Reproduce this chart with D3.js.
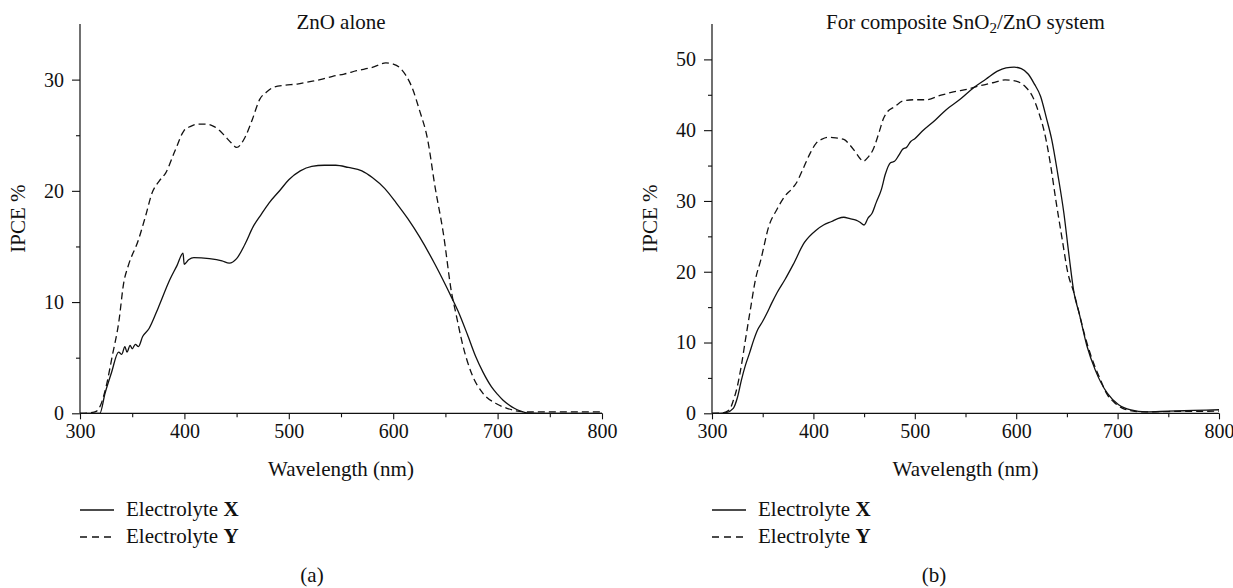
<!DOCTYPE html>
<html>
<head>
<meta charset="utf-8">
<script src="https://cdn.jsdelivr.net/npm/d3@7/dist/d3.min.js"></script>
<style>
  body { margin: 0; background: #fff; }
  svg text { font-family: "Liberation Serif", "Times New Roman", serif; fill: #111; }
</style>
</head>
<body>
<div id="chart-area"></div>
<script>
// ---- data (wavelength nm, IPCE %) ----
var aXnm  = [300, 310, 319, 324, 330, 337, 340, 343, 345, 348, 350, 353, 356, 360, 366, 375, 386, 393, 398.7, 399.8, 404, 409, 424, 436, 443, 450, 458, 466, 473, 481, 492, 500, 511, 522, 534, 545, 557, 570, 580, 592, 603, 614, 625, 640, 656, 663, 671, 679, 686, 694, 700, 705, 711, 716, 722, 728, 740, 760, 780, 800];
var aXval = [0, 0, 0, 1.8, 3.6, 5.5, 5.3, 6.0, 5.5, 6.1, 5.8, 6.2, 6.0, 6.9, 7.6, 9.5, 12.0, 13.3, 14.4, 13.4, 13.8, 14.0, 13.9, 13.7, 13.5, 13.9, 15.2, 16.8, 17.8, 18.9, 20.1, 21.0, 21.8, 22.2, 22.3, 22.3, 22.1, 21.8, 21.2, 20.2, 18.9, 17.5, 15.9, 13.4, 10.4, 9.0, 7.1, 5.1, 3.7, 2.4, 1.7, 1.2, 0.75, 0.45, 0.2, 0.04, 0, 0, 0, 0];
var aYnm  = [300, 310, 316, 320, 325, 331, 337, 342, 346, 356, 363, 369, 376, 382, 391, 399.5, 406, 413, 420, 428, 434, 439, 445, 450, 458, 465, 472, 479, 485, 496, 508, 519, 530, 542, 553, 565, 580, 593, 600, 606, 612, 618, 625, 633, 640, 648, 656, 660, 667, 675, 686, 698, 709, 724, 740, 770, 800];
var aYval = [0, 0.05, 0.2, 0.8, 2.4, 5.2, 8.1, 11.8, 13.2, 15.6, 17.8, 19.8, 20.9, 21.6, 23.6, 25.4, 25.8, 26.0, 26.0, 25.8, 25.4, 24.9, 24.3, 23.9, 24.8, 26.4, 28.2, 28.9, 29.3, 29.5, 29.6, 29.8, 30.0, 30.3, 30.5, 30.8, 31.1, 31.5, 31.4, 31.1, 30.4, 29.3, 27.3, 24.6, 20.4, 16.2, 10.8, 9.0, 6.0, 3.6, 1.8, 0.9, 0.45, 0.15, 0.12, 0.12, 0.12];

var bXnm  = [300, 308, 314, 321, 325, 329, 333, 337, 341, 345, 350, 354, 359, 364, 372, 380, 391, 403, 410, 418, 424, 430, 436, 442, 446, 450, 454, 458, 462, 467, 471, 476, 480, 484, 488, 492, 496, 500, 507, 520, 531, 545, 558, 570, 581, 590, 598, 605, 612, 618, 624, 630, 635, 641, 647, 652, 657, 662, 670, 678, 690, 701, 713, 728, 750, 775, 800];
var bXval = [0, 0, 0.1, 0.7, 2.2, 4.7, 6.8, 8.5, 10.3, 11.8, 13.0, 14.1, 15.6, 17.0, 18.9, 21.0, 24.1, 25.9, 26.6, 27.1, 27.5, 27.7, 27.5, 27.3, 27.0, 26.6, 27.6, 28.3, 29.8, 31.6, 33.8, 35.4, 35.6, 36.4, 37.3, 37.6, 38.4, 38.8, 39.8, 41.4, 42.9, 44.4, 46.0, 47.2, 48.3, 48.8, 48.9, 48.7, 47.9, 46.5, 44.8, 41.6, 38.7, 33.8, 28.3, 22.4, 17.0, 14.2, 9.4, 6.1, 2.8, 1.2, 0.47, 0.2, 0.3, 0.4, 0.5];
var bYnm  = [300, 310, 317, 321, 325, 329, 333, 338, 343, 348, 356, 364, 372, 378, 383, 390, 397, 403, 408, 414, 422, 430, 436, 442, 446, 449, 454, 459, 465, 469, 473, 480, 488, 500, 511, 525, 538, 552, 565, 577, 589, 597, 604, 610, 616, 622, 628, 634, 639, 645, 651, 657, 662, 668, 674, 682, 690, 697, 705, 714, 724, 750, 775, 800];
var bYval = [0, 0.05, 0.47, 1.8, 3.8, 6.8, 10.4, 14.8, 19.0, 21.6, 26.4, 28.8, 30.7, 31.6, 32.5, 34.6, 36.8, 38.2, 38.7, 39.0, 38.9, 38.7, 37.9, 36.8, 36.0, 35.6, 36.2, 37.3, 39.8, 41.6, 42.6, 43.3, 44.1, 44.3, 44.3, 44.9, 45.4, 45.8, 46.3, 46.7, 47.1, 47.0, 46.7, 46.0, 44.8, 42.6, 39.6, 35.0, 30.2, 24.9, 19.8, 17.0, 14.2, 10.8, 8.0, 5.1, 2.6, 1.5, 0.7, 0.35, 0.2, 0.25, 0.28, 0.3];

var xTicks = [300, 400, 500, 600, 700, 800];
var xMinor = [350, 450, 550, 650, 750];
var aYTicks = [0, 10, 20, 30];
var aYMinor = [5, 15, 25];
var bYTicks = [0, 10, 20, 30, 40, 50];
var bYMinor = [5, 15, 25, 35, 45];

var seriesNames = ["Electrolyte ", "Electrolyte "];
var seriesTags = ["X", "Y"];

var W = 1233, H = 588;
var fs = "21px", tickFs = "20px";
var svg = d3.select("#chart-area").append("svg")
    .attr("width", W)
    .attr("height", H);

var plotTop = 24, plotBottom = 413.3;

function panel(opt) {
    var x = d3.scaleLinear().domain([300, 800]).range([opt.left, opt.right]);
    var y = d3.scaleLinear().domain([0, opt.yMax]).range([plotBottom, plotTop]);
    var g = svg.append("g");

    // title
    var title = g.append("text")
        .attr("x", (opt.left + opt.right) / 2)
        .attr("y", 29)
        .attr("text-anchor", "middle")
        .attr("font-size", fs);
    opt.title(title);

    // axes
    g.append("g")
        .attr("transform", "translate(0," + plotBottom + ")")
        .call(d3.axisBottom(x).tickValues(xTicks).tickSize(6).tickPadding(5).tickSizeOuter(0));
    g.append("g")
        .attr("transform", "translate(0," + plotBottom + ")")
        .call(d3.axisBottom(x).tickValues(xMinor).tickSize(4).tickFormat("").tickSizeOuter(0));

    g.append("g")
        .attr("transform", "translate(" + opt.left + ",0)")
        .call(d3.axisLeft(y).tickValues(opt.yTicks).tickSize(8).tickPadding(8).tickSizeOuter(0));
    g.append("g")
        .attr("transform", "translate(" + opt.left + ",0)")
        .call(d3.axisLeft(y).tickValues(opt.yMinor).tickSize(4).tickFormat("").tickSizeOuter(0));

    g.selectAll(".domain").remove();
    // axis lines drawn by hand so the y line reaches the top
    g.append("line").attr("x1", opt.left).attr("x2", opt.left)
        .attr("y1", y(opt.yMax)).attr("y2", plotBottom)
        .attr("stroke", "#111").attr("stroke-width", 1.2);
    g.append("line").attr("x1", opt.left).attr("x2", opt.right)
        .attr("y1", plotBottom).attr("y2", plotBottom)
        .attr("stroke", "#111").attr("stroke-width", 1.2);

    g.selectAll(".tick line").attr("stroke", "#111").attr("stroke-width", 1.1);
    g.selectAll(".tick text")
        .attr("font-family", "Liberation Serif, serif")
        .attr("font-size", tickFs)
        .attr("fill", "#111");

    // axis labels
    g.append("text")
        .attr("x", (opt.left + opt.right) / 2)
        .attr("y", 476)
        .attr("text-anchor", "middle")
        .attr("font-size", fs)
        .text("Wavelength (nm)");

    g.append("text")
        .attr("transform", "translate(" + (opt.left - 55) + "," + ((plotTop + plotBottom) / 2) + ") rotate(-90)")
        .attr("text-anchor", "middle")
        .attr("font-size", fs)
        .text("IPCE %");

    // lines
    var line = d3.line()
        .x(d => x(d[0]))
        .y(d => y(d[1]))
        .curve(d3.curveMonotoneX);

    var solid = opt.xnm.map((d, i) => [d, opt.xval[i]]);
    var dashed = opt.ynm.map((d, i) => [d, opt.yval[i]]);

    g.append("path").datum(dashed)
        .attr("d", line)
        .attr("fill", "none")
        .attr("stroke", "#111")
        .attr("stroke-width", 1.3)
        .attr("stroke-dasharray", "7,4");

    g.append("path").datum(solid)
        .attr("d", line)
        .attr("fill", "none")
        .attr("stroke", "#111")
        .attr("stroke-width", 1.3);

    // legend
    var leg = g.append("g");
    [0, 1].forEach(function(i) {
        var ly = 510 + i * 27;
        leg.append("line")
            .attr("x1", opt.left).attr("x2", opt.left + 34)
            .attr("y1", ly).attr("y2", ly)
            .attr("stroke", "#111").attr("stroke-width", 1.3)
            .attr("stroke-dasharray", i == 1 ? "7,5" : null);
        var t = leg.append("text")
            .attr("x", opt.left + 46)
            .attr("y", ly + 6)
            .attr("font-size", fs);
        t.append("tspan").text(seriesNames[i]);
        t.append("tspan").attr("font-weight", "bold").text(seriesTags[i]);
    });

    // panel letter
    g.append("text")
        .attr("x", opt.letterX)
        .attr("y", 582)
        .attr("text-anchor", "middle")
        .attr("font-size", fs)
        .text(opt.letter);
}

panel({
    left: 80, right: 602, yMax: 35,
    yTicks: aYTicks, yMinor: aYMinor,
    xnm: aXnm, xval: aXval, ynm: aYnm, yval: aYval,
    letter: "(a)", letterX: 312,
    title: function(t) { t.text("ZnO alone"); }
});

panel({
    left: 712, right: 1219, yMax: 55,
    yTicks: bYTicks, yMinor: bYMinor,
    xnm: bXnm, xval: bXval, ynm: bYnm, yval: bYval,
    letter: "(b)", letterX: 934,
    title: function(t) {
        t.append("tspan").text("For composite SnO");
        t.append("tspan").attr("font-size", "15px").attr("dy", 4).text("2");
        t.append("tspan").attr("dy", -4).text("/ZnO system");
    }
});
</script>
</body>
</html>
